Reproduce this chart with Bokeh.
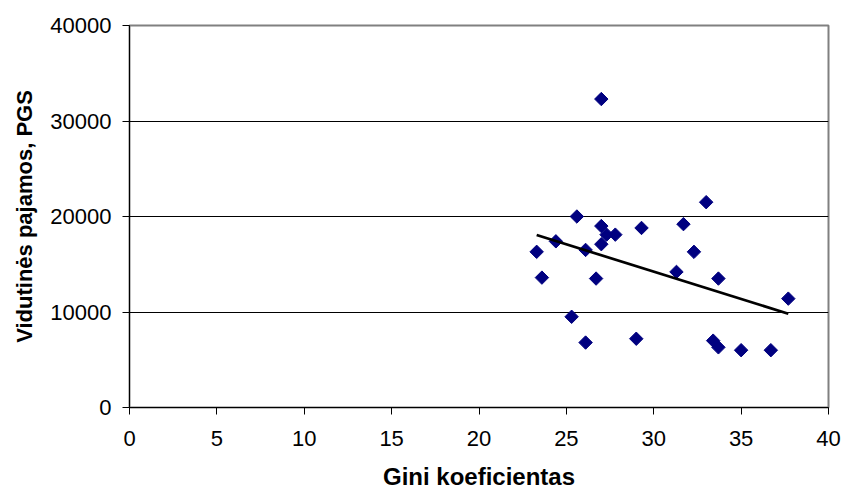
import math
from bokeh.plotting import figure
from bokeh.models import Range1d, FixedTicker
from bokeh.embed import file_html
from bokeh.resources import INLINE

# Data
gini = [27.0, 23.3, 23.6, 24.4, 25.6, 25.3, 26.1, 26.1, 26.7, 27.0, 27.0, 27.3, 27.8,
        29.0, 29.3, 31.3, 31.7, 32.3, 33.0, 33.4, 33.7, 33.7, 35.0, 36.7, 37.7]
income = [32300, 16300, 13600, 17400, 20000, 9500, 16500, 6800, 13500, 19000, 17100, 18100, 18100,
          7200, 18800, 14200, 19200, 16300, 21500, 7000, 6300, 13500, 6000, 6000, 11400]
trend_x = [23.3, 37.7]
trend_y = [18060, 9820]
x_ticks = [0, 5, 10, 15, 20, 25, 30, 35, 40]
y_ticks = [0, 10000, 20000, 30000, 40000]
x_title = "Gini koeficientas"
y_title = "Vidutinės pajamos, PGS"

FONT = "Liberation Sans"

p = figure(width=844, height=494, output_backend="svg", toolbar_location=None,
           x_range=Range1d(0, 40), y_range=Range1d(0, 40000),
           min_border_left=129, min_border_right=16, min_border_top=25, min_border_bottom=87)

p.background_fill_color = "white"
p.border_fill_color = "white"
p.outline_line_color = "#808080"
p.outline_line_width = 2

p.xgrid.grid_line_color = None
p.ygrid.ticker = FixedTicker(ticks=y_ticks[1:-1])
p.ygrid.grid_line_color = "black"
p.ygrid.grid_line_width = 1

for ax, ticks in ((p.xaxis, x_ticks), (p.yaxis, y_ticks)):
    ax.ticker = FixedTicker(ticks=ticks)
    ax.minor_tick_line_color = None
    ax.axis_line_color = "black"
    ax.axis_line_width = 1
    ax.major_tick_line_color = "black"
    ax.major_tick_in = 0
    ax.major_tick_out = 7
    ax.major_label_text_font = FONT
    ax.major_label_text_font_size = "22px"
    ax.major_label_text_color = "black"
    ax.axis_label_text_font = FONT
    ax.axis_label_text_font_style = "bold"
    ax.axis_label_text_color = "black"

p.xaxis.axis_label = x_title
p.yaxis.axis_label = y_title
p.xaxis.axis_label_text_font_size = "24px"
p.yaxis.axis_label_text_font_size = "22px"
p.xaxis.major_label_standoff = 16
p.xaxis.axis_label_standoff = 14
p.yaxis.major_label_standoff = 11
p.yaxis.axis_label_standoff = 10
p.yaxis.major_label_orientation = "horizontal"

p.scatter(gini, income, marker="square", size=9.5, angle=math.pi / 4,
          fill_color="#000080", line_color="#000080")
p.line(trend_x, trend_y, line_color="black", line_width=2.7)

open("out.html", "w").write(file_html(p, INLINE))
